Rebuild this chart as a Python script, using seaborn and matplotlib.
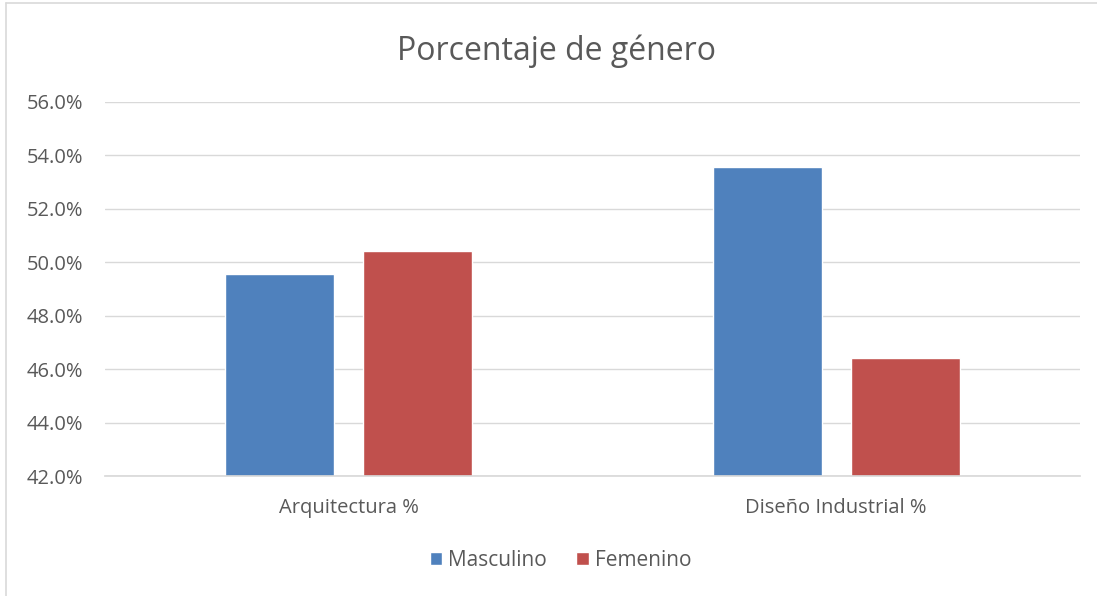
import matplotlib
matplotlib.use("Agg")
import matplotlib.pyplot as plt
import seaborn as sns
import pandas as pd
from matplotlib.ticker import FuncFormatter, MultipleLocator
from matplotlib.lines import Line2D
from matplotlib.patches import Patch

categories = ["Arquitectura %", "Diseño Industrial %"]
masculino = [49.57, 53.57]
femenino = [50.43, 46.43]
series = ["Masculino", "Femenino"]
colors = ["#4F81BD", "#C0504D"]

df = pd.DataFrame({
    "cat": categories * 2,
    "val": masculino + femenino,
    "serie": [series[0]] * 2 + [series[1]] * 2,
})

sns.set_theme(style="white")
plt.rcParams["font.family"] = ["Open Sans", "DejaVu Sans"]
txt = "#595959"

fig = plt.figure(figsize=(10.97, 5.96), dpi=100)
ax = fig.add_axes([0.0957, 0.2013, 0.8888, 0.6276])

sns.barplot(data=df, x="cat", y="val", hue="serie", palette=colors,
            width=0.566, gap=0.208, ax=ax, legend=False, saturation=1)

ax.set_ylim(42, 56)
ax.set_xlim(-0.5, 1.5)
ax.yaxis.set_major_locator(MultipleLocator(2))
ax.yaxis.set_major_formatter(FuncFormatter(lambda v, p: f"{v:.1f}%"))
ax.grid(axis="y", color="#D9D9D9", linewidth=1)
ax.set_axisbelow(True)
for s in ["top", "right", "left"]:
    ax.spines[s].set_visible(False)
ax.spines["bottom"].set_color("#D9D9D9")
ax.set_xlabel("")
ax.set_ylabel("")
ax.tick_params(axis="both", length=0, labelsize=14.5, colors=txt)
ax.tick_params(axis="x", pad=16)
ax.tick_params(axis="y", pad=16)

fig.text(0.5075, 0.914, "Porcentaje de género", ha="center", va="center",
         fontsize=23, color=txt)

handles = [Patch(facecolor=c, label=s) for c, s in zip(colors, series)]
fig.legend(handles=handles, loc="center", bbox_to_anchor=(0.511, 0.06),
           ncol=2, frameon=False, fontsize=15, labelcolor=txt,
           handlelength=0.6, handleheight=0.6, handletextpad=0.3, columnspacing=1.4)

# outer chart border (left and top visible)
fig.add_artist(Line2D([6/1097, 6/1097], [0, 1 - 3/596], color="#D9D9D9", lw=1.2, transform=fig.transFigure))
fig.add_artist(Line2D([6/1097, 1], [1 - 3/596, 1 - 3/596], color="#D9D9D9", lw=1.2, transform=fig.transFigure))

fig.savefig("out.png", dpi=100)
